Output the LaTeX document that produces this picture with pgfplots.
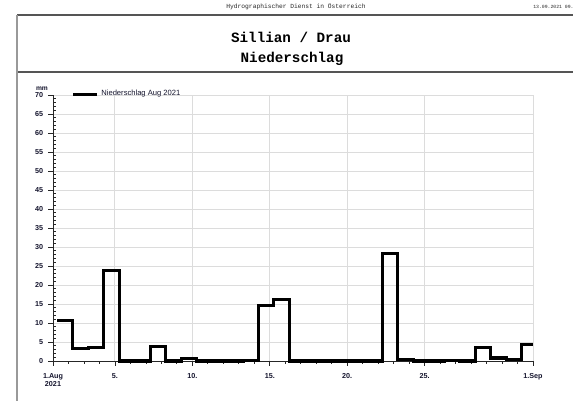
\documentclass[border=0pt]{standalone}
\usepackage{pgfplots}
\pgfplotsset{compat=1.18}
\usepackage{fontspec}
\setmainfont{Liberation Sans}
\newfontfamily\mono{Liberation Mono}
\definecolor{lab}{RGB}{20,20,45}
\definecolor{gridc}{RGB}{220,220,220}
\definecolor{frame}{RGB}{85,85,85}
\begin{document}
\begin{tikzpicture}
\path[use as bounding box] (0,0) rectangle (429.75pt,-300.75pt);
\begin{scope}[x=0.75pt,y=-0.75pt]
\draw[frame, line width=1.3pt] (17,15) -- (573,15);
\draw[frame, line width=1.3pt] (17,72) -- (573,72);
\draw[gray!80, line width=1.6pt] (17,15) -- (17,401);
\node[font=\mono\fontsize{4.7}{5}\selectfont, text=black!85] at (296,7) {Hydrographischer Dienst in Österreich};
\node[font=\mono\fontsize{3.6}{4}\selectfont, text=black!85, anchor=west, inner sep=0pt] at (533,7) {13.09.2021 09.};
\node[font=\mono\bfseries\fontsize{10.7}{12}\selectfont] at (291,37.5) {Sillian / Drau};
\node[font=\mono\bfseries\fontsize{10.7}{12}\selectfont] at (292,59) {Niederschlag};
\node[font=\bfseries\fontsize{5}{5.5}\selectfont, text=lab] at (42,88.5) {mm};
\end{scope}
\begin{axis}[
  at={(39.75pt,-270.75pt)}, anchor=south west,
  scale only axis, width=360pt, height=199.5pt,
  xmin=1, xmax=32, ymin=0, ymax=70,
  axis x line*=bottom, axis y line*=left,
  axis line style={black!85, line width=0.75pt},
  xtick={1,5,10,15,20,25,32},
  xticklabels={{1.Aug\\2021},5.,10.,15.,20.,25.,1.Sep},
  minor xtick={2,3,4,6,7,8,9,11,12,13,14,16,17,18,19,21,22,23,24,26,27,28,29,30,31},
  ytick={0,5,...,70},
  minor ytick={1,2,3,4,6,7,8,9,11,12,13,14,16,17,18,19,21,22,23,24,26,27,28,29,31,32,33,34,36,37,38,39,41,42,43,44,46,47,48,49,51,52,53,54,56,57,58,59,61,62,63,64,66,67,68,69},
  tick align=outside,
  major tick length=3.5pt, minor tick length=2pt,
  minor y tick style={xshift=2pt},
  tick style={black!85, line width=0.6pt},
  xmajorgrids, ymajorgrids,
  major grid style={gridc, line width=0.75pt},
  /pgf/number format/assume math mode=true,
  tick label style={font=\bfseries\fontsize{5.4}{5.9}\selectfont, text=lab},
  xticklabel style={align=center, yshift=-2.5pt},
  yticklabel style={xshift=-0.3pt},
  legend style={at={(0.038,1.003)}, anchor=west, draw=none, fill=none,
    font=\fontsize{5.7}{6.2}\selectfont, text=lab, inner sep=0pt},
  legend image code/.code={\draw[#1, line width=2.4pt] (0pt,0pt) -- (18pt,0pt);},
  legend cell align=left,
  clip=false,
]
\addplot[const plot mark left, black, line width=2.3pt, line join=miter] table {
x y
1.27 10.6
2.27 3.3
3.27 3.5
4.27 23.7
5.27 0
7.27 3.7
8.27 0
9.27 0.6
10.27 0
13.27 0.2
14.27 14.7
15.27 16.3
16.27 0
22.27 28.3
23.27 0.5
24.27 0
26.27 0.2
27.27 0
28.27 3.6
29.27 0.8
30.27 0.3
31.27 4.4
32 4.4
};
\addlegendentry{Niederschlag Aug 2021}
\end{axis}
\end{tikzpicture}
\end{document}
